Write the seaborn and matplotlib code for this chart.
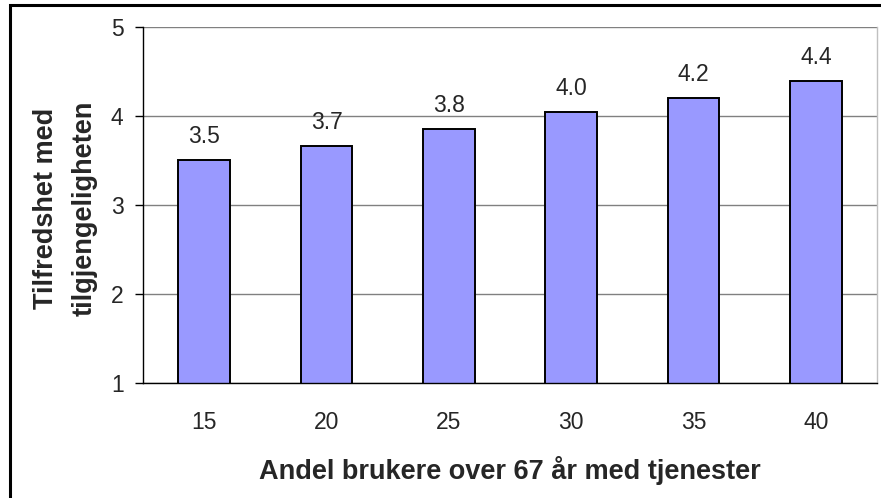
import matplotlib
matplotlib.use("Agg")
import matplotlib.pyplot as plt
from matplotlib.patches import Rectangle
import seaborn as sns
import pandas as pd

# Data
shares = ["15", "20", "25", "30", "35", "40"]
satisfaction = [3.50, 3.66, 3.85, 4.04, 4.20, 4.39]
value_labels = ["3.5", "3.7", "3.8", "4.0", "4.2", "4.4"]
y_ticks = [1, 2, 3, 4, 5]

df = pd.DataFrame({"share": shares, "satisfaction": satisfaction})

sns.set_style("white")
plt.rcParams["font.family"] = ["Liberation Sans", "DejaVu Sans"]

fig = plt.figure(figsize=(8.81, 4.98), dpi=100)
ax = fig.add_axes([143 / 881, 115 / 498, 734 / 881, 356 / 498])

sns.barplot(data=df, x="share", y="satisfaction", color="#9999FF",
            saturation=1, edgecolor="black", linewidth=1.4, width=0.42, ax=ax)

# value labels above the bars
for i, (v, lab) in enumerate(zip(satisfaction, value_labels)):
    ax.text(i, v + 0.14, lab, ha="center", va="bottom", fontsize=16.5)

ax.set_xlim(-0.5, len(shares) - 0.5)
ax.set_ylim(1, 5)
ax.set_yticks(y_ticks)
ax.yaxis.grid(True, color="#808080", linewidth=1)
ax.set_axisbelow(True)

# tick marks between categories
ax.set_xticks([i - 0.5 for i in range(len(shares) + 1)], minor=True)
ax.tick_params(axis="x", which="major", length=0, pad=20, labelsize=16.5)
ax.tick_params(axis="x", which="minor", length=6, width=1, color="black", direction="out")
ax.tick_params(axis="y", which="major", length=6, width=1, color="black",
               direction="out", left=True, pad=8, labelsize=16.5)

for side in ["left", "bottom"]:
    ax.spines[side].set_color("black")
    ax.spines[side].set_linewidth(1)
ax.spines["top"].set_visible(False)
ax.spines["right"].set_color("#C0C0C0")
ax.spines["right"].set_linewidth(1)

ax.set_xlabel("Andel brukere over 67 år med tjenester", fontsize=19.5, fontweight="bold")
ax.xaxis.set_label_coords(0.5, -0.205)
ax.set_ylabel("Tilfredshet med\ntilgjengeligheten", fontsize=19.5, fontweight="bold",
              linespacing=1.6)
ax.yaxis.set_label_coords(-0.062, 0.49)

# outer chart border
fig.patches.append(Rectangle((10 / 881, -0.1), 1.2, 0.1 + 493 / 498,
                             transform=fig.transFigure, fill=False,
                             edgecolor="black", linewidth=2.2))

plt.savefig("out.png", dpi=100)
